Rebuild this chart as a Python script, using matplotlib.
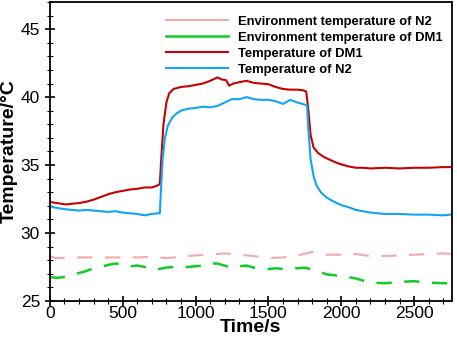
import matplotlib
matplotlib.use("Agg")
import matplotlib.pyplot as plt
from matplotlib.ticker import MultipleLocator

plt.rcParams['font.family'] = ['Liberation Sans', 'DejaVu Sans']
plt.rcParams['lines.scale_dashes'] = False

# Temperature of DM1 (red)
t_dm1 = [0, 20, 50, 80, 110, 150, 200, 250, 300, 350, 400, 450, 500, 550, 600, 650, 700, 740, 755,
         765, 780, 800, 820, 850, 900, 950, 1000, 1050, 1100, 1150, 1180, 1210, 1230, 1260, 1300,
         1350, 1400, 1450, 1500, 1550, 1600, 1650, 1700, 1740, 1760, 1775, 1790, 1810, 1840, 1880,
         1920, 1960, 2000, 2050, 2100, 2150, 2200, 2300, 2400, 2500, 2600, 2700, 2750]
v_dm1 = [32.3, 32.25, 32.2, 32.15, 32.1, 32.15, 32.2, 32.3, 32.45, 32.65, 32.85, 33.0, 33.1, 33.2,
         33.25, 33.35, 33.35, 33.5, 33.6, 35.5, 38.0, 39.6, 40.3, 40.6, 40.75, 40.8, 40.9, 41.0,
         41.2, 41.45, 41.3, 41.25, 40.85, 41.0, 41.1, 41.2, 41.05, 41.0, 40.95, 40.75, 40.6, 40.55,
         40.55, 40.5, 40.4, 39.0, 37.2, 36.3, 35.9, 35.6, 35.4, 35.2, 35.05, 34.9, 34.8, 34.8,
         34.75, 34.8, 34.75, 34.8, 34.8, 34.85, 34.85]

# Temperature of N2 (blue)
t_n2 = [0, 20, 50, 100, 150, 200, 250, 300, 350, 400, 450, 500, 550, 600, 650, 700, 740, 755,
        762, 775, 790, 810, 840, 870, 900, 950, 1000, 1050, 1100, 1150, 1200, 1250, 1300, 1350,
        1400, 1450, 1500, 1550, 1600, 1650, 1700, 1750, 1765, 1775, 1790, 1810, 1830, 1860, 1900,
        1950, 2000, 2050, 2100, 2150, 2200, 2250, 2300, 2400, 2500, 2600, 2700, 2750]
v_n2 = [32.0, 31.9, 31.85, 31.75, 31.7, 31.65, 31.7, 31.65, 31.6, 31.55, 31.6, 31.5, 31.45, 31.4,
        31.3, 31.4, 31.45, 31.45, 33.0, 35.5, 37.0, 37.9, 38.5, 38.8, 39.0, 39.15, 39.2, 39.3,
        39.25, 39.35, 39.6, 39.85, 39.85, 40.0, 39.85, 39.8, 39.8, 39.7, 39.5, 39.8, 39.6, 39.45,
        39.4, 37.5, 35.4, 34.2, 33.5, 33.0, 32.6, 32.3, 32.05, 31.9, 31.7, 31.6, 31.5, 31.45,
        31.4, 31.4, 31.35, 31.35, 31.3, 31.35]

# Environment temperature of N2 (pink dashed)
t_env_n2 = [0, 40, 100, 200, 300, 400, 500, 600, 700, 800, 900, 1000, 1100, 1200, 1300, 1400,
            1500, 1600, 1700, 1800, 1850, 1900, 2000, 2100, 2200, 2300, 2400, 2500, 2600, 2700, 2750]
v_env_n2 = [28.3, 28.15, 28.15, 28.2, 28.2, 28.2, 28.2, 28.2, 28.25, 28.15, 28.25, 28.35, 28.4,
            28.5, 28.4, 28.3, 28.15, 28.2, 28.35, 28.6, 28.55, 28.4, 28.4, 28.45, 28.3, 28.3,
            28.35, 28.4, 28.45, 28.5, 28.45]

# Environment temperature of DM1 (green dashed)
t_env_dm1 = [0, 50, 100, 150, 200, 250, 300, 350, 400, 450, 500, 550, 600, 650, 700, 750, 800,
             850, 900, 950, 1000, 1050, 1100, 1150, 1200, 1250, 1300, 1350, 1400, 1500, 1550, 1600,
             1650, 1700, 1750, 1800, 1850, 1900, 1950, 2000, 2050, 2100, 2200, 2300, 2400, 2500,
             2600, 2700, 2750]
v_env_dm1 = [26.75, 26.7, 26.75, 26.9, 27.05, 27.2, 27.4, 27.5, 27.65, 27.75, 27.7, 27.55, 27.6,
             27.5, 27.3, 27.35, 27.45, 27.5, 27.5, 27.5, 27.55, 27.6, 27.75, 27.75, 27.6, 27.45,
             27.55, 27.6, 27.45, 27.35, 27.4, 27.35, 27.45, 27.4, 27.45, 27.3, 27.15, 26.95, 26.9,
             26.8, 26.75, 26.65, 26.35, 26.3, 26.4, 26.45, 26.35, 26.3, 26.3]

fig = plt.figure(figsize=(4.57, 3.40), dpi=100)
ax = fig.add_axes([0.109, 0.115, 0.88, 0.879])

ax.plot(t_env_n2, v_env_n2, color='#f7a8a8', lw=1.5, dashes=(11, 9),
        label='Environment temperature of N2')
ax.plot(t_env_dm1, v_env_dm1, color='#10cc25', lw=1.8, dashes=(11, 9),
        label='Environment temperature of DM1')
ax.plot(t_dm1, v_dm1, color='#c80000', lw=1.5, label='Temperature of DM1')
ax.plot(t_n2, v_n2, color='#12a4f5', lw=1.5, label='Temperature of N2')

ax.set_xlim(0, 2760)
ax.set_ylim(25, 47)
ax.xaxis.set_major_locator(MultipleLocator(500))
ax.xaxis.set_minor_locator(MultipleLocator(100))
ax.yaxis.set_major_locator(MultipleLocator(5))
ax.yaxis.set_minor_locator(MultipleLocator(1))
ax.tick_params(which='major', direction='inout', length=7, width=1.2, labelsize=12.5)
ax.tick_params(axis='x', which='major', pad=0)
ax.tick_params(which='minor', direction='inout', length=4, width=0.8)
for s in ax.spines.values():
    s.set_linewidth(1.3)

ax.set_xlabel('Time/s', fontsize=14, fontweight='bold', labelpad=-1)
ax.set_ylabel('Temperature/°C', fontsize=14, fontweight='bold', labelpad=2)

leg = ax.legend(loc='upper right', frameon=False, prop={'weight': 'bold', 'size': 9.4},
                handlelength=4.8, handletextpad=0.75, labelspacing=0.3,
                borderaxespad=0.3, bbox_to_anchor=(1.0, 0.985))
for h in leg.get_lines():
    h.set_linestyle('-')

fig.savefig('out.png', dpi=100)
